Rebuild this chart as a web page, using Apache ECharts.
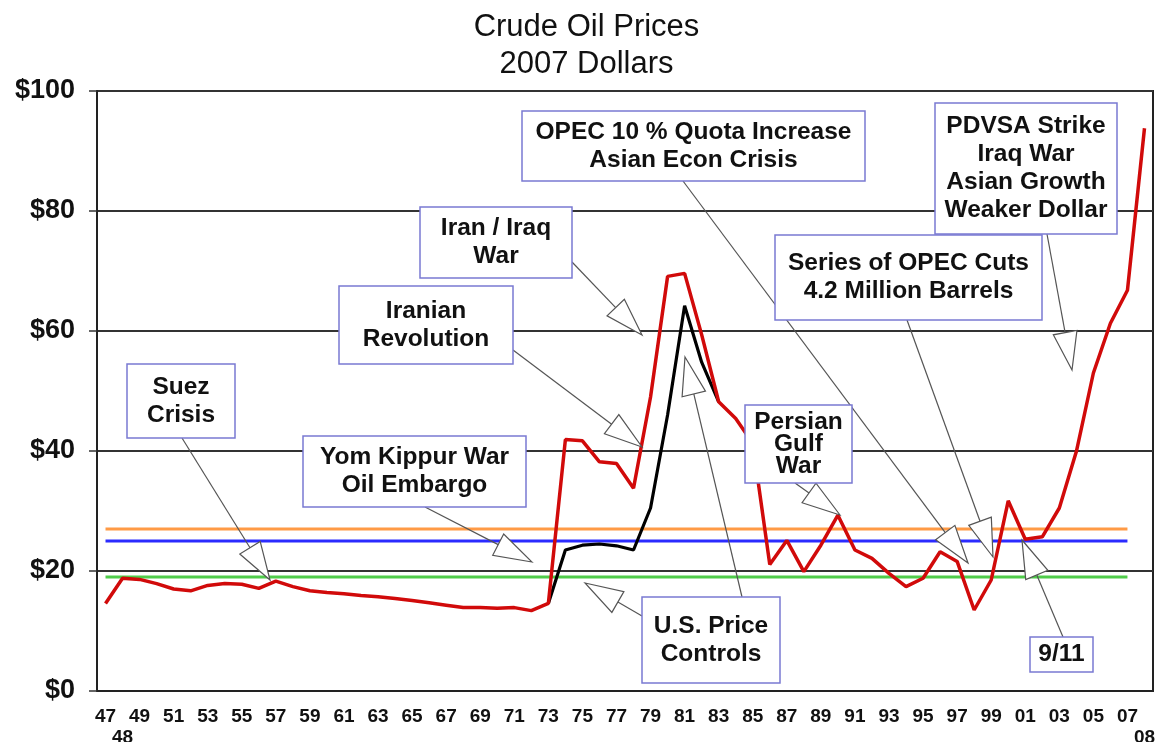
<!DOCTYPE html>
<html>
<head>
<meta charset="UTF-8">
<title>Crude Oil Prices</title>
<script src="https://cdn.jsdelivr.net/npm/echarts@6/dist/echarts.min.js"></script>
<style>
  html, body { margin: 0; padding: 0; background: #fff; }
  #main { width: 1173px; height: 742px; }
</style>
</head>
<body>
<div id="main"></div>
<script>
// x categories (two-digit years, 1947 - 2008)
var years = ['47','48','49','50','51','52','53','54','55','56','57','58','59','60','61','62',
  '63','64','65','66','67','68','69','70','71','72','73','74','75','76','77','78','79','80',
  '81','82','83','84','85','86','87','88','89','90','91','92','93','94','95','96','97','98',
  '99','00','01','02','03','04','05','06','07','08'];

// red line: price in 2007 dollars
var realPrice = [14.6, 18.8, 18.6, 17.9, 17.0, 16.7, 17.6, 17.9, 17.8, 17.1, 18.3, 17.4, 16.7,
  16.4, 16.2, 15.9, 15.7, 15.4, 15.1, 14.7, 14.3, 13.9, 13.9, 13.8, 13.9, 13.4, 14.6,
  41.9, 41.7, 38.2, 37.9, 33.8, 49.0, 69.1, 69.6, 59.4, 48.2, 45.4, 41.3, 21.1, 25.1,
  19.9, 24.3, 29.3, 23.5, 22.1, 19.6, 17.4, 18.8, 23.2, 21.6, 13.5, 18.5, 31.7, 25.3,
  25.7, 30.5, 39.9, 53.0, 61.3, 66.8, 93.8];

// black line: U.S. controlled price
var controlYears = ['73','74','75','76','77','78','79','80','81','82','83'];
var controlPrice = [14.6, 23.5, 24.3, 24.5, 24.2, 23.5, 30.5, 46.0, 64.2, 54.8, 48.2];

// horizontal reference levels
var refLevels = [27, 25, 19];
var refColors = ['#ff9a45', '#2b2bff', '#4fcc4a'];
var refStart = '47', refEnd = '07';

// y axis ticks
var yTicks = [0, 20, 40, 60, 80, 100];

var font = "'Liberation Sans', Arial, sans-serif";

// annotation boxes (pixel layout) with their arrows
var notes = [
  { text: 'Suez\nCrisis', box: [127, 364, 235, 438], arrows: [[182, 438, 270, 580]] },
  { text: 'Yom Kippur War\nOil Embargo', box: [303, 436, 526, 507], arrows: [[425, 507, 532, 562]] },
  { text: 'Iran / Iraq\nWar', box: [420, 207, 572, 278], arrows: [[572, 262, 642, 335]] },
  { text: 'Iranian\nRevolution', box: [339, 286, 513, 364], arrows: [[513, 350, 642, 447]] },
  { text: 'OPEC 10 % Quota Increase\nAsian Econ Crisis', box: [522, 111, 865, 181], arrows: [[683, 181, 968, 563]] },
  { text: 'Series of OPEC Cuts\n4.2 Million Barrels', box: [775, 235, 1042, 320], arrows: [[907, 320, 993, 557]] },
  { text: 'PDVSA Strike\nIraq War\nAsian Growth\nWeaker Dollar', box: [935, 103, 1117, 234], arrows: [[1047, 234, 1072, 370]] },
  { text: 'Persian\nGulf\nWar', box: [745, 405, 852, 483], lh: 22, arrows: [[795, 483, 840, 515]] },
  { text: 'U.S. Price\nControls', box: [642, 597, 780, 683], arrows: [[642, 616, 585, 583], [742, 597, 685, 357]] },
  { text: '9/11', box: [1030, 637, 1093, 672], arrows: [[1063, 637, 1022, 540]] }
];

function arrow(sx, sy, tx, ty) {
  var dx = tx - sx, dy = ty - sy;
  var d = Math.sqrt(dx * dx + dy * dy);
  var ux = dx / d, uy = dy / d;
  var len = 38, hw = 12;
  var bx = tx - ux * len, by = ty - uy * len;
  return [
    { type: 'line', z: 100, shape: { x1: sx, y1: sy, x2: bx, y2: by },
      style: { stroke: '#555', lineWidth: 1.2 } },
    { type: 'polygon', z: 100,
      shape: { points: [[tx, ty], [bx - uy * hw, by + ux * hw], [bx + uy * hw, by - ux * hw]] },
      style: { fill: '#fff', stroke: '#555', lineWidth: 1.2 } }
  ];
}

var graphics = [];
notes.forEach(function (n) {
  n.arrows.forEach(function (a) {
    graphics = graphics.concat(arrow(a[0], a[1], a[2], a[3]));
  });
  var b = n.box;
  graphics.push({
    type: 'rect', z: 101,
    shape: { x: b[0], y: b[1], width: b[2] - b[0], height: b[3] - b[1] },
    style: { fill: '#fff', stroke: '#7a7ad2', lineWidth: 1.5 }
  });
  graphics.push({
    type: 'text', z: 102,
    x: (b[0] + b[2]) / 2, y: (b[1] + b[3]) / 2,
    style: {
      text: n.text, fill: '#111', font: 'bold 24.5px ' + font,
      textAlign: 'center', textVerticalAlign: 'middle',
      align: 'center', verticalAlign: 'middle', lineHeight: n.lh || 28
    }
  });
});

var series = refLevels.map(function (lvl, i) {
  return {
    type: 'line', silent: true, symbol: 'none', z: 2,
    data: [[refStart, lvl], [refEnd, lvl]],
    lineStyle: { color: refColors[i], width: 3 }
  };
});
series.push({
  type: 'line', symbol: 'none', z: 3,
  data: controlYears.map(function (y, i) { return [y, controlPrice[i]]; }),
  lineStyle: { color: '#000', width: 3.2 }
});
series.push({
  type: 'line', symbol: 'none', z: 4,
  data: realPrice,
  lineStyle: { color: '#d10a0a', width: 3.5 }
});

var chart = echarts.init(document.getElementById('main'));
chart.setOption({
  backgroundColor: '#fff',
  animation: false,
  title: {
    text: 'Crude Oil Prices\n2007 Dollars',
    left: 'center', top: 4,
    textStyle: { fontFamily: font, fontSize: 31, fontWeight: 'normal', color: '#111', lineHeight: 37 }
  },
  grid: {
    left: 97, right: 20, top: 91, bottom: 51, outerBoundsMode: 'none',
    show: true, borderColor: '#222', borderWidth: 2
  },
  xAxis: {
    type: 'category', data: years, boundaryGap: true,
    axisLine: { lineStyle: { color: '#222', width: 2 } },
    axisTick: { interval: 0, alignWithLabel: true, length: 9, lineStyle: { color: '#333', width: 1.5 } },
    axisLabel: {
      interval: 0, margin: 15, color: '#111', fontFamily: font, fontSize: 19, fontWeight: 'bold', lineHeight: 21,
      formatter: function (v) {
        if (v === '48' || v === '08') return '\n' + v;
        return (parseInt(v, 10) % 2 === 1) ? v : '';
      }
    }
  },
  yAxis: {
    type: 'value', min: yTicks[0], max: yTicks[yTicks.length - 1], interval: 20,
    axisLine: { show: true, lineStyle: { color: '#222', width: 2 } },
    axisTick: { show: true, length: 8, lineStyle: { color: '#333', width: 1.5 } },
    axisLabel: {
      margin: 22, color: '#111', fontFamily: font, fontSize: 27, fontWeight: 'bold',
      formatter: function (v) { return '$' + v; }
    },
    splitLine: { lineStyle: { color: '#333', width: 2 } }
  },
  series: series,
  graphic: graphics
});
</script>
</body>
</html>
